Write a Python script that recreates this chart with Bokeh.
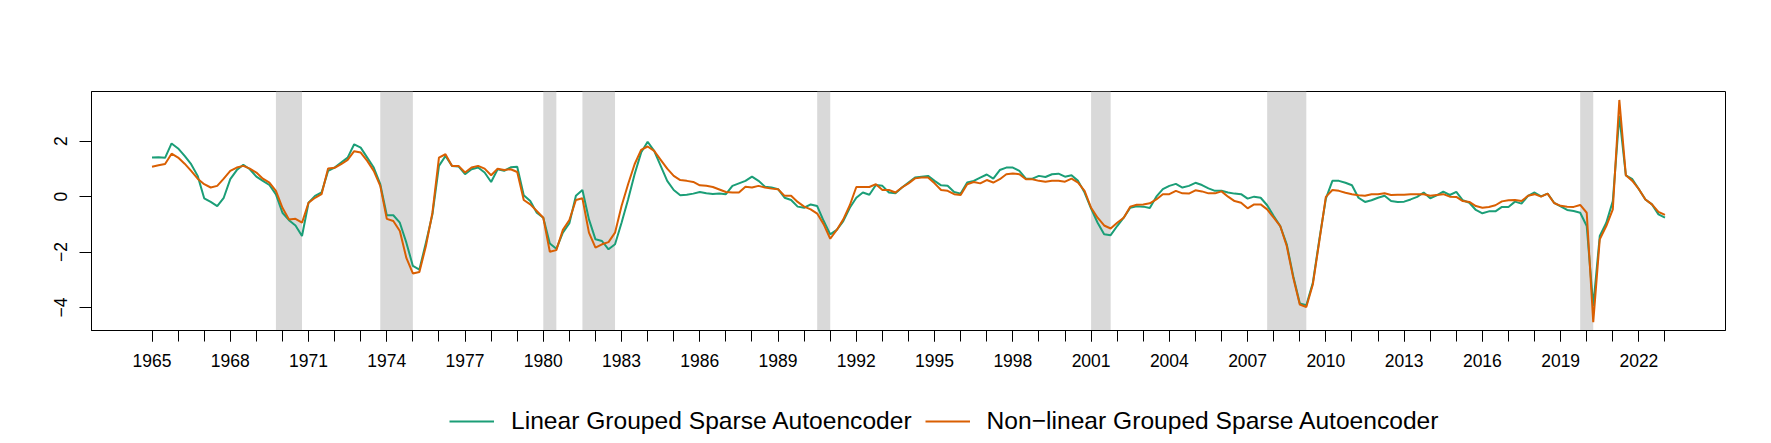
from bokeh.plotting import figure
from bokeh.models import (Range1d, FixedTicker, BoxAnnotation, Legend, LegendItem)
from bokeh.layouts import column
from bokeh.embed import file_html
from bokeh.resources import INLINE

# ---------------- data ----------------
start_year = 1965
periods_per_year = 4

linear = [
    1.41, 1.42, 1.40, 1.92, 1.74, 1.47, 1.17, 0.75, -0.06, -0.19,
    -0.34, -0.04, 0.63, 0.96, 1.15, 0.99, 0.72, 0.57, 0.42, 0.08,
    -0.58, -0.85, -1.04, -1.42, -0.22, 0.03, 0.15, 0.93, 1.05, 1.23,
    1.41, 1.89, 1.77, 1.41, 1.05, 0.45, -0.67, -0.67, -0.94, -1.66,
    -2.50, -2.63, -1.66, -0.64, 1.11, 1.47, 1.11, 1.09, 0.81, 0.99,
    1.05, 0.87, 0.53, 0.99, 0.93, 1.06, 1.08, 0.05, -0.16, -0.58,
    -0.76, -1.69, -1.88, -1.30, -0.96, 0.03, 0.24, -0.82, -1.54, -1.60,
    -1.90, -1.72, -0.94, -0.10, 0.81, 1.59, 1.98, 1.65, 1.11, 0.57,
    0.24, 0.05, 0.07, 0.11, 0.17, 0.12, 0.10, 0.11, 0.09, 0.39,
    0.48, 0.57, 0.72, 0.57, 0.36, 0.33, 0.27, -0.04, -0.12, -0.36,
    -0.40, -0.28, -0.34, -0.88, -1.36, -1.20, -0.88, -0.40, -0.04, 0.15,
    0.07, 0.42, 0.39, 0.15, 0.12, 0.33, 0.51, 0.69, 0.72, 0.75,
    0.57, 0.41, 0.39, 0.17, 0.11, 0.51, 0.57, 0.69, 0.80, 0.65,
    0.96, 1.05, 1.05, 0.93, 0.65, 0.65, 0.75, 0.71, 0.81, 0.83,
    0.72, 0.77, 0.57, 0.15, -0.43, -0.94, -1.36, -1.39, -1.06, -0.76,
    -0.40, -0.35, -0.36, -0.41, 0.00, 0.27, 0.39, 0.46, 0.33, 0.39,
    0.50, 0.42, 0.30, 0.21, 0.21, 0.15, 0.11, 0.09, -0.07, 0.00,
    -0.04, -0.31, -0.70, -1.06, -1.72, -2.87, -3.85, -3.92, -3.11, -1.54,
    -0.07, 0.57, 0.57, 0.50, 0.41, -0.04, -0.19, -0.13, -0.04, 0.03,
    -0.16, -0.19, -0.18, -0.10, -0.01, 0.15, -0.06, 0.05, 0.18, 0.06,
    0.17, -0.13, -0.22, -0.48, -0.60, -0.53, -0.53, -0.37, -0.37, -0.18,
    -0.25, 0.03, 0.15, 0.01, 0.11, -0.22, -0.35, -0.48, -0.52, -0.58,
    -1.06, -3.95, -1.42, -0.94, -0.16, 2.92, 0.77, 0.63, 0.27, -0.10,
    -0.28, -0.64, -0.76,
]

nonlinear = [
    1.08, 1.13, 1.18, 1.55, 1.41, 1.19, 0.93, 0.65, 0.45, 0.33,
    0.39, 0.65, 0.93, 1.05, 1.11, 1.01, 0.87, 0.65, 0.51, 0.21,
    -0.40, -0.82, -0.80, -0.94, -0.22, -0.04, 0.09, 1.02, 1.04, 1.17,
    1.33, 1.64, 1.59, 1.29, 0.93, 0.39, -0.80, -0.88, -1.24, -2.21,
    -2.77, -2.72, -1.78, -0.58, 1.41, 1.53, 1.11, 1.11, 0.87, 1.05,
    1.11, 1.01, 0.77, 1.01, 0.96, 0.99, 0.89, -0.12, -0.28, -0.52,
    -0.76, -1.99, -1.93, -1.20, -0.84, -0.12, -0.06, -1.30, -1.84, -1.72,
    -1.64, -1.30, -0.34, 0.45, 1.17, 1.69, 1.81, 1.65, 1.33, 1.01,
    0.75, 0.60, 0.57, 0.53, 0.41, 0.39, 0.35, 0.26, 0.17, 0.15,
    0.15, 0.36, 0.33, 0.39, 0.33, 0.29, 0.27, 0.03, 0.03, -0.19,
    -0.36, -0.46, -0.61, -1.00, -1.52, -1.20, -0.82, -0.31, 0.35, 0.35,
    0.35, 0.45, 0.24, 0.24, 0.15, 0.33, 0.48, 0.66, 0.69, 0.69,
    0.48, 0.24, 0.21, 0.09, 0.06, 0.45, 0.53, 0.48, 0.60, 0.51,
    0.63, 0.81, 0.84, 0.81, 0.63, 0.63, 0.57, 0.54, 0.57, 0.57,
    0.54, 0.65, 0.51, 0.21, -0.40, -0.76, -1.04, -1.15, -0.94, -0.76,
    -0.36, -0.29, -0.28, -0.24, -0.10, 0.09, 0.09, 0.21, 0.12, 0.11,
    0.23, 0.19, 0.12, 0.12, 0.19, 0.00, -0.16, -0.22, -0.42, -0.28,
    -0.28, -0.46, -0.76, -1.06, -1.78, -2.93, -3.89, -3.98, -3.17, -1.60,
    -0.01, 0.24, 0.21, 0.14, 0.09, 0.05, 0.03, 0.09, 0.09, 0.12,
    0.06, 0.07, 0.07, 0.09, 0.09, 0.09, 0.03, 0.06, 0.09, 0.00,
    -0.01, -0.16, -0.19, -0.34, -0.40, -0.37, -0.31, -0.17, -0.13, -0.12,
    -0.16, 0.03, 0.09, 0.00, 0.11, -0.23, -0.33, -0.36, -0.37, -0.30,
    -0.58, -4.53, -1.54, -1.06, -0.46, 3.49, 0.77, 0.57, 0.27, -0.10,
    -0.28, -0.55, -0.66,
]

recession_start = [1969.75, 1973.75, 1980.0, 1981.5, 1990.5, 2001.0, 2007.75, 2019.75]
recession_end = [1970.75, 1975.0, 1980.5, 1982.75, 1991.0, 2001.75, 2009.25, 2020.25]

label_years = list(range(1965, 2023, 3))
tick_years = list(range(1965, 2024))
y_ticks = [-4, -2, 0, 2]
y_tick_labels = {-4: "\u22124", -2: "\u22122", 0: "0", 2: "2"}

series_names = ["Linear Grouped Sparse Autoencoder", "Non\u2212linear Grouped Sparse Autoencoder"]
series_colors = ["#1B9E77", "#D95F02"]

dates = [start_year + i / periods_per_year for i in range(len(linear))]

# ---------------- main figure ----------------
FONT = "Liberation Sans"
W = 1760
p = figure(width=W, height=380, output_backend="svg", toolbar_location=None,
           x_range=Range1d(1962.68, 2025.32), y_range=Range1d(-4.83, 3.795),
           min_border_left=91, min_border_right=35, min_border_top=91, min_border_bottom=50,
           background_fill_color="white", border_fill_color="white")

p.xgrid.visible = False
p.ygrid.visible = False
p.outline_line_color = "black"
p.outline_line_width = 1

for s, e in zip(recession_start, recession_end):
    p.add_layout(BoxAnnotation(left=s, right=e, fill_color="#D9D9D9", fill_alpha=1.0,
                               line_alpha=0, level="underlay"))

r1 = p.line(dates, linear, line_color=series_colors[0], line_width=2)
r2 = p.line(dates, nonlinear, line_color=series_colors[1], line_width=2)

# x axis
p.xaxis.ticker = FixedTicker(ticks=label_years, minor_ticks=tick_years)
p.xaxis.major_tick_out = 11
p.xaxis.major_tick_in = 0
p.xaxis.minor_tick_out = 11
p.xaxis.minor_tick_in = 0
p.xaxis.minor_tick_line_color = "black"
p.xaxis.major_label_standoff = 12

# y axis
p.yaxis.ticker = FixedTicker(ticks=y_ticks)
p.yaxis.major_label_overrides = y_tick_labels
p.yaxis.major_label_orientation = "vertical"
p.yaxis.major_tick_out = 12
p.yaxis.major_tick_in = 0
p.yaxis.minor_tick_line_color = None
p.yaxis.major_label_standoff = 12

for ax in (p.xaxis[0], p.yaxis[0]):
    ax.axis_line_color = "black"
    ax.major_tick_line_color = "black"
    ax.major_label_text_font = FONT
    ax.major_label_text_font_size = "17.5px"
    ax.major_label_text_color = "black"

# ---------------- legend strip (series drawn outside its view, only keys show) ----------------
lf = figure(width=W, height=60, output_backend="svg", toolbar_location=None,
            x_range=Range1d(0, 1), y_range=Range1d(100, 101),
            x_axis_type=None, y_axis_type=None,
            min_border=0, outline_line_color=None,
            background_fill_color="white", border_fill_color="white")
lf.xgrid.visible = False
lf.ygrid.visible = False
k1 = lf.line(dates, linear, line_color=series_colors[0], line_width=2)
k2 = lf.line(dates, nonlinear, line_color=series_colors[1], line_width=2)

legend = Legend(items=[LegendItem(label=series_names[0], renderers=[k1]),
                       LegendItem(label=series_names[1], renderers=[k2])],
                orientation="horizontal", location=(358, 5),
                padding=0, margin=0, spacing=13, glyph_width=45, label_standoff=17,
                border_line_alpha=0, background_fill_alpha=0,
                label_text_font=FONT, label_text_font_size="24.6px", label_text_color="black")
lf.add_layout(legend)

layout = column(p, lf, spacing=0)
open("out.html", "w").write(file_html(layout, INLINE))
